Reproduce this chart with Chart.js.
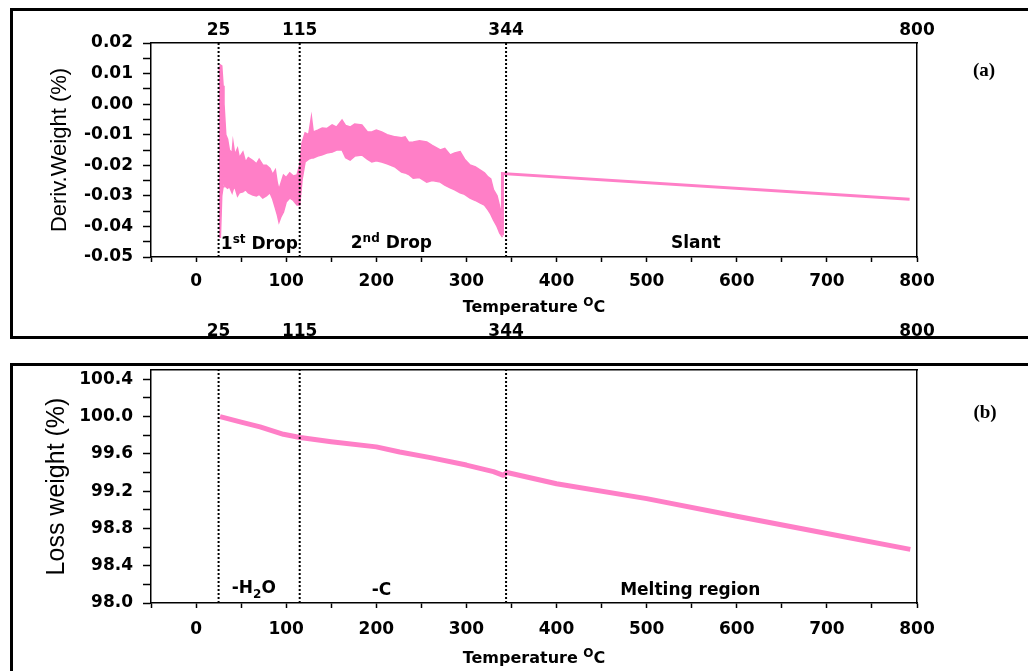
<!DOCTYPE html>
<html>
<head>
<meta charset="utf-8">
<script src="https://cdn.jsdelivr.net/npm/chart.js@4.4.1/dist/chart.umd.min.js"></script>
<style>
  html, body { margin: 0; padding: 0; background: #fff; }
  body { width: 1028px; height: 671px; position: relative; overflow: hidden; }
  .panel { position: absolute; border: 3px solid #000; box-sizing: border-box; }
  #panelA { left: 10px; top: 8px; width: 1040px; height: 331px; }
  #panelB { left: 10px; top: 363px; width: 1040px; height: 330px; }
  canvas { position: absolute; left: 0; }
  #dtgChart { top: 0; }
  #tgaChart { top: 310px; }
</style>
</head>
<body>
<div class="panel" id="panelA"></div>
<div class="panel" id="panelB"></div>
<canvas id="dtgChart" width="1028" height="320"></canvas>
<canvas id="tgaChart" width="1028" height="361"></canvas>
<script>
// ---- data ----
const markerTemps = [25, 115, 344];
const topTickTemps = [25, 115, 344, 800];
const xTickLabels = [0, 100, 200, 300, 400, 500, 600, 700, 800];
const dtgTicks = [0.02, 0.01, 0, -0.01, -0.02, -0.03, -0.04, -0.05];
const tgaTicks = [98.0, 98.4, 98.8, 99.2, 99.6, 100.0, 100.4];

// (a) noisy derivative signal: upper / lower edge of the band
const noiseTemps = [25.5, 27, 28.5, 30, 31, 33, 35, 37, 40, 41, 43, 46, 48, 52, 55, 58, 63, 67, 70, 74,
    78, 82, 85, 88, 90, 92, 94, 97, 100, 104, 108, 112, 115, 117.6, 121, 125, 128, 130, 135, 140,
    145, 151, 156, 162, 166, 171, 176, 184, 190, 195, 200, 206, 212, 221, 228, 232, 236, 241, 248, 256,
    262, 271, 276, 282, 287, 293, 298, 304, 310, 315, 320, 324, 327, 330, 334, 337, 340];
const noiseUpper = [0.011, 0.0128, 0.0125, 0.006, 0.000, -0.010, -0.0115, -0.015, -0.016, -0.0125, -0.0165, -0.0145, -0.0175, -0.0157, -0.019, -0.0175, -0.0185, -0.0195, -0.018, -0.0199,
    -0.020, -0.021, -0.023, -0.0215, -0.0255, -0.028, -0.026, -0.0232, -0.024, -0.0225, -0.0235, -0.0232, -0.020, -0.0127, -0.0094, -0.010, -0.0042, -0.0091, -0.0085, -0.0078,
    -0.008, -0.0068, -0.0075, -0.0052, -0.007, -0.0075, -0.0065, -0.0068, -0.009, -0.0091, -0.0085, -0.0091, -0.010, -0.0107, -0.011, -0.0107, -0.0125, -0.0124, -0.012, -0.0124,
    -0.0135, -0.015, -0.0145, -0.0166, -0.016, -0.0155, -0.018, -0.0199, -0.0205, -0.0215, -0.0225, -0.0238, -0.0245, -0.028, -0.030, -0.0336, -0.037];
const noiseLower = [-0.0435, -0.0435, -0.030, -0.027, -0.026, -0.027, -0.0275, -0.027, -0.029, -0.028, -0.027, -0.030, -0.029, -0.0287, -0.028, -0.029, -0.0297, -0.030, -0.0295, -0.0307,
    -0.030, -0.029, -0.031, -0.034, -0.036, -0.0386, -0.037, -0.0353, -0.032, -0.0307, -0.0315, -0.033, -0.033, -0.0248, -0.0189, -0.018, -0.0176, -0.0176, -0.017, -0.0166,
    -0.016, -0.0157, -0.015, -0.015, -0.0175, -0.0183, -0.017, -0.0166, -0.018, -0.0189, -0.0185, -0.0189, -0.0195, -0.0206, -0.0222, -0.0225, -0.023, -0.0242, -0.024, -0.0255,
    -0.025, -0.0255, -0.0265, -0.0274, -0.028, -0.029, -0.0295, -0.0307, -0.0315, -0.0323, -0.033, -0.0346, -0.036, -0.0379, -0.040, -0.0422, -0.0435];
// (a) straight part after 344
const slantTemps = [339.5, 340, 791.8];
const slantValues = [-0.0425, -0.0227, -0.0311];

// (b) weight loss
const lossTemps = [26.6, 50, 71, 97, 115.4, 150, 200, 226, 260, 300, 330, 341, 345, 400, 500, 600, 700, 792.6];
const lossValues = [100.0, 99.94, 99.89, 99.81, 99.775, 99.73, 99.675, 99.62, 99.56, 99.48, 99.41, 99.37, 99.40, 99.28, 99.12, 98.93, 98.745, 98.575];

const PINK = '#ff7fc7';
const TICK_FONT = { family: '"DejaVu Sans", sans-serif', size: 17, weight: 'bold' };

/**
 * Gabung dua array jadi titik {x, y}
 */
function toPoints(xs, ys) {
    return xs.map((x, i) => ({ x: x, y: ys[i] }));
}

function markerSets(yMin, yMax) {
    return markerTemps.map(t => ({
        data: [{ x: t, y: yMin }, { x: t, y: yMax }],
        borderColor: '#000',
        borderWidth: 2,
        borderDash: [2, 2],
        pointRadius: 0
    }));
}

/**
 * Teks dengan superscript / subscript
 */
function drawParts(ctx, parts, x, y, size, align) {
    const font = s => 'bold ' + s + 'px "DejaVu Sans", sans-serif';
    let total = 0;
    parts.forEach(p => {
        ctx.font = font(p.sup || p.sub ? 12 : size);
        total += ctx.measureText(p.t).width;
    });
    let cx = align === 'center' ? x - total / 2 : x;
    ctx.textBaseline = 'alphabetic';
    ctx.textAlign = 'left';
    parts.forEach(p => {
        ctx.font = font(p.sup || p.sub ? 12 : size);
        const dy = p.sup ? -6 : (p.sub ? 5 : 0);
        ctx.fillText(p.t, cx, y + dy);
        cx += ctx.measureText(p.t).width;
    });
}

function labelPlugin(items, titleOffset, tag) {
    return {
        id: 'labels',
        afterDatasetsDraw(chart) {
            const ctx = chart.ctx;
            const xs = chart.scales.x;
            const ys = chart.scales.y;
            const area = chart.chartArea;
            ctx.save();
            ctx.fillStyle = '#000';
            items.forEach(it => {
                drawParts(ctx, it.parts, xs.getPixelForValue(it.x), ys.getPixelForValue(it.y), 17, 'left');
            });
            // judul sumbu x
            drawParts(ctx, [{ t: 'Temperature ' }, { t: 'O', sup: true }, { t: 'C' }],
                (area.left + area.right) / 2, area.bottom + titleOffset, 16, 'center');
            // label panel
            ctx.font = 'bold 19px "Liberation Serif", serif';
            ctx.textAlign = 'center';
            ctx.textBaseline = 'middle';
            ctx.fillText(tag.text, tag.x, tag.y);
            ctx.restore();
        }
    };
}

function makeOptions(cfg) {
    return {
        responsive: false,
        animation: false,
        layout: { padding: 0 },
        plugins: { legend: { display: false }, tooltip: { enabled: false } },
        elements: { point: { radius: 0 }, line: { tension: 0 } },
        scales: {
            x: {
                type: 'linear', position: 'bottom', min: -50, max: 800,
                afterFit: a => { a.height = cfg.xHeight; },
                grid: { drawOnChartArea: false, tickLength: 5, tickColor: '#000', tickWidth: 1.5 },
                border: { color: '#000', width: 1.5 },
                ticks: {
                    stepSize: 50, autoSkip: false, maxRotation: 0, padding: cfg.xPad,
                    color: '#000', font: TICK_FONT,
                    callback: v => xTickLabels.indexOf(Math.round(v)) >= 0 && Math.abs(v - Math.round(v)) < 1e-9 ? String(Math.round(v)) : ''
                }
            },
            x2: {
                type: 'linear', position: 'top', min: -50, max: 800,
                afterFit: a => { a.height = cfg.topHeight; },
                afterBuildTicks: a => { a.ticks = topTickTemps.map(v => ({ value: v })); },
                grid: { display: false },
                border: { color: '#000', width: 1.5 },
                ticks: { autoSkip: false, maxRotation: 0, padding: cfg.topPad, color: '#000', font: TICK_FONT, callback: v => String(v) }
            },
            y: {
                type: 'linear', position: 'left', min: cfg.yMin, max: cfg.yMax,
                afterFit: a => { a.width = 151; },
                afterBuildTicks: a => { a.ticks = cfg.yMinor.map(v => ({ value: v })); },
                grid: { drawOnChartArea: false, tickLength: 8, tickColor: '#000', tickWidth: 1.5 },
                border: { color: '#000', width: 1.5 },
                title: {
                    display: true, text: cfg.yTitle, color: '#000',
                    font: { family: '"Liberation Sans", Arial, sans-serif', size: cfg.yTitleSize, weight: 'normal' },
                    padding: { top: cfg.yTitlePad, bottom: 0 }
                },
                ticks: {
                    autoSkip: false, padding: 10, color: '#000', font: TICK_FONT,
                    callback: cfg.yLabel
                }
            },
            y2: {
                type: 'linear', position: 'right', min: 0, max: 1,
                afterFit: a => { a.width = 111; },
                grid: { display: false },
                border: { color: '#000', width: 1.5 },
                ticks: { display: false }
            }
        }
    };
}

function tickLabel(list, digits) {
    return v => {
        const m = list.find(t => Math.abs(t - v) < 1e-6);
        return m === undefined ? '' : m.toFixed(digits);
    };
}

// tick besar + tick kecil di tengahnya
function withMinor(list) {
    const out = [];
    list.forEach((v, i) => {
        out.push(v);
        if (i < list.length - 1) out.push((v + list[i + 1]) / 2);
    });
    return out;
}

// ---- (a) derivative weight ----
new Chart(document.getElementById('dtgChart').getContext('2d'), {
    type: 'line',
    data: {
        datasets: [
            ...markerSets(-0.05, 0.02),
            { data: toPoints(slantTemps, slantValues), borderColor: PINK, borderWidth: 3, fill: false },
            { data: toPoints(noiseTemps, noiseUpper), borderColor: PINK, borderWidth: 1.5, backgroundColor: PINK, fill: '+1' },
            { data: toPoints(noiseTemps, noiseLower), borderColor: PINK, borderWidth: 1.5, fill: false }
        ]
    },
    options: makeOptions({
        xHeight: 63, xPad: 9, topHeight: 43, topPad: -6,
        yMin: -0.05, yMax: 0.02, yMinor: withMinor(dtgTicks),
        yTitle: 'Deriv.Weight (%)', yTitleSize: 22, yTitlePad: 47,
        yLabel: tickLabel(dtgTicks, 2)
    }),
    plugins: [labelPlugin([
        { x: 27.5, y: -0.0474, parts: [{ t: '1' }, { t: 'st', sup: true }, { t: ' Drop' }] },
        { x: 171.7, y: -0.0471, parts: [{ t: '2' }, { t: 'nd', sup: true }, { t: ' Drop' }] },
        { x: 527, y: -0.0471, parts: [{ t: 'Slant' }] }
    ], 55, { text: '(a)', x: 984, y: 71 })]
});

// ---- (b) loss weight ----
new Chart(document.getElementById('tgaChart').getContext('2d'), {
    type: 'line',
    data: {
        datasets: [
            ...markerSets(98.0, 100.5),
            { data: toPoints(lossTemps, lossValues), borderColor: PINK, borderWidth: 5, fill: false, borderJoinStyle: 'round' }
        ]
    },
    options: makeOptions({
        xHeight: 68, xPad: 11, topHeight: 60, topPad: 20,
        yMin: 98.0, yMax: 100.5, yMinor: withMinor(tgaTicks),
        yTitle: 'Loss weight (%)', yTitleSize: 25, yTitlePad: 42,
        yLabel: tickLabel(tgaTicks, 1)
    }),
    plugins: [labelPlugin([
        { x: 39.6, y: 98.107, parts: [{ t: '-H' }, { t: '2', sub: true }, { t: 'O' }] },
        { x: 195, y: 98.085, parts: [{ t: '-C' }] },
        { x: 470.6, y: 98.085, parts: [{ t: 'Melting region' }] }
    ], 60, { text: '(b)', x: 985, y: 103 })]
});
</script>
</body>
</html>
